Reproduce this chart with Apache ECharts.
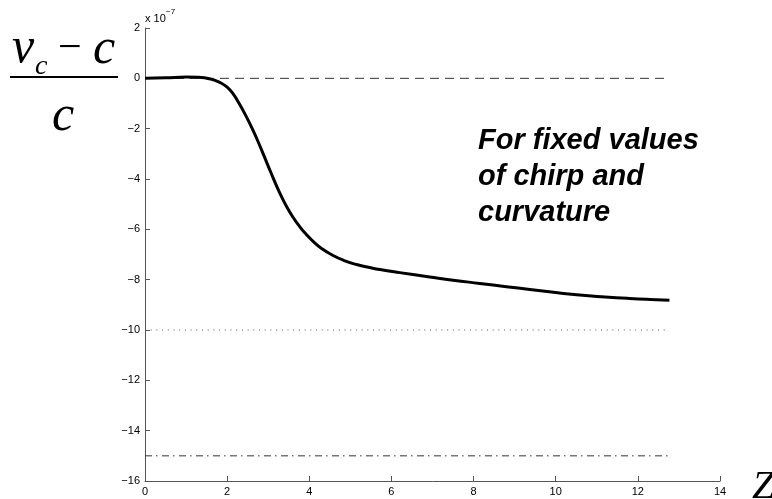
<!DOCTYPE html>
<html>
<head>
<meta charset="utf-8">
<script src="https://cdn.jsdelivr.net/npm/echarts@6/dist/echarts.min.js"></script>
<style>
html,body{margin:0;padding:0;background:#fff;}
#chart{width:772px;height:499px;}
</style>
</head>
<body>
<div id="chart"></div>
<script>
// Data (values in units of 1e-7)
var zValues = [0, 0.5, 1.0, 1.3, 1.6, 1.83, 2.0, 2.15, 2.3, 2.47, 2.6, 2.72, 2.85, 2.96, 3.08, 3.2, 3.33, 3.45, 3.6, 3.77, 3.93, 4.1, 4.3, 4.58, 4.85, 5.15, 5.5, 5.72, 6.2, 6.93, 7.5, 8.15, 8.8, 9.37, 10.0, 10.58, 11.2, 11.8, 12.3, 12.77];
var curveValues = [0, 0.02, 0.05, 0.04, -0.03, -0.17, -0.35, -0.63, -1.02, -1.53, -1.96, -2.39, -2.89, -3.33, -3.80, -4.26, -4.72, -5.10, -5.51, -5.90, -6.21, -6.49, -6.76, -7.04, -7.24, -7.4, -7.53, -7.6, -7.72, -7.89, -8.02, -8.15, -8.28, -8.39, -8.51, -8.61, -8.685, -8.745, -8.785, -8.815];
var refZ = [0, 12.77];
var dashedLevel = [0, 0];
var dottedLevel = [-10, -10];
var dashDotLevel = [-15, -15];
var xTicks = [0, 2, 4, 6, 8, 10, 12, 14];
var yTicks = [-16, -14, -12, -10, -8, -6, -4, -2, 0, 2];
var annotationLines = ['For fixed values', 'of chirp and', 'curvature'];

function pairs(xs, ys) { return xs.map(function (x, i) { return [x, ys[i]]; }); }

var chart = echarts.init(document.getElementById('chart'), null, {renderer: 'canvas'});
var axisColor = '#555';
var tickFont = {fontFamily: 'Liberation Sans, Arial, sans-serif', fontSize: 11, color: '#000'};
var serif = 'Liberation Serif, Times New Roman, serif';
var annFont = 'italic bold 29px Liberation Sans, Arial, sans-serif';

chart.setOption({
  animation: false,
  grid: {left: 145, top: 28, right: 52, bottom: 18, containLabel: false},
  xAxis: {
    type: 'value', min: 0, max: 14, interval: 2,
    axisLine: {show: true, onZero: false, lineStyle: {color: axisColor, width: 1}},
    axisTick: {show: true, inside: true, length: 5, lineStyle: {color: axisColor}},
    axisLabel: Object.assign({margin: 5, formatter: function (v) { return xTicks.indexOf(v) >= 0 ? String(v) : ''; }}, tickFont),
    splitLine: {show: false}
  },
  yAxis: {
    type: 'value', min: -16, max: 2, interval: 2,
    axisLine: {show: true, onZero: false, lineStyle: {color: axisColor, width: 1}},
    axisTick: {show: true, inside: true, length: 5, lineStyle: {color: axisColor}},
    axisLabel: Object.assign({margin: 5, formatter: function (v) { return yTicks.indexOf(v) >= 0 ? String(v).replace('-', '\u2212') : ''; }}, tickFont),
    splitLine: {show: false}
  },
  series: [
    {type: 'line', data: pairs(refZ, dashedLevel), symbol: 'none', silent: true,
     lineStyle: {color: '#333', width: 1, type: [9, 6]}},
    {type: 'line', data: pairs(refZ, dottedLevel), symbol: 'none', silent: true,
     lineStyle: {color: '#555', width: 1, type: [1, 4.7]}},
    {type: 'line', data: pairs(refZ, dashDotLevel), symbol: 'none', silent: true,
     lineStyle: {color: '#333', width: 1, type: [7, 4, 1.5, 4.5]}},
    {type: 'line', data: pairs(zValues, curveValues), symbol: 'none', smooth: 0.5, silent: true,
     lineStyle: {color: '#000', width: 3, cap: 'butt', join: 'round'}}
  ],
  graphic: [
    {type: 'text', left: 145, top: 13, style: {text: 'x 10', font: '11px Liberation Sans, Arial, sans-serif', fill: '#000'}},
    {type: 'text', left: 166, top: 8, style: {text: '\u22127', font: '8px Liberation Sans, Arial, sans-serif', fill: '#000'}},
    {type: 'text', left: 478, top: 126, style: {text: annotationLines[0], font: annFont, fill: '#000'}},
    {type: 'text', left: 478, top: 162, style: {text: annotationLines[1], font: annFont, fill: '#000'}},
    {type: 'text', left: 478, top: 198, style: {text: annotationLines[2], font: annFont, fill: '#000'}},
    // y label fraction
    {type: 'text', x: 12, y: 49, style: {text: 'v', font: 'italic 50px ' + serif, fill: '#000', verticalAlign: 'middle'}},
    {type: 'text', x: 35, y: 67, style: {text: 'c', font: 'italic 28px ' + serif, fill: '#000', verticalAlign: 'middle'}},
    {type: 'text', x: 58, y: 49, style: {text: '\u2212', font: '42px ' + serif, fill: '#000', verticalAlign: 'middle'}},
    {type: 'text', x: 93, y: 50, style: {text: 'c', font: 'italic 50px ' + serif, fill: '#000', verticalAlign: 'middle'}},
    {type: 'line', shape: {x1: 10, y1: 77, x2: 118, y2: 77}, style: {stroke: '#000', lineWidth: 2}},
    {type: 'text', x: 52, y: 117, style: {text: 'c', font: 'italic 50px ' + serif, fill: '#000', verticalAlign: 'middle'}},
    {type: 'text', x: 752, y: 487, style: {text: 'Z', font: 'italic 41px ' + serif, fill: '#000', verticalAlign: 'middle'}}
  ]
});
</script>
</body>
</html>
